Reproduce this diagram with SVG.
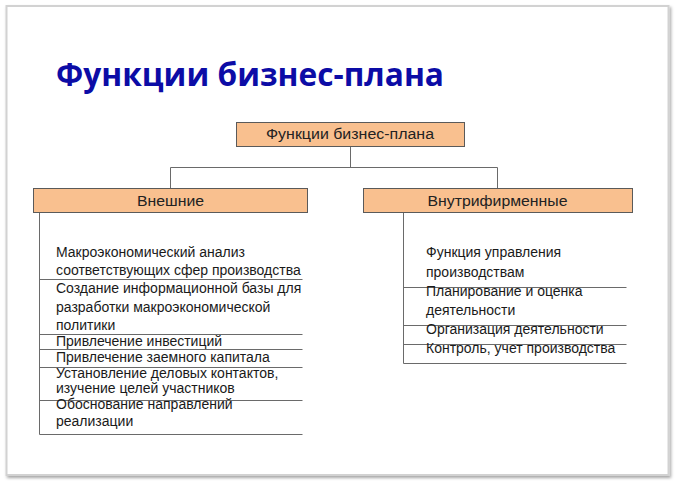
<svg xmlns="http://www.w3.org/2000/svg" width="676" height="482" viewBox="0 0 676 482">
<defs>
<filter id="sh" x="-5%" y="-5%" width="110%" height="110%">
<feDropShadow dx="1.5" dy="2" stdDeviation="1.5" flood-color="#000" flood-opacity="0.35"/>
</filter>
<style>
.title{font-family:"Open Sans","Noto Sans","Liberation Sans",sans-serif;font-weight:bold;font-size:32px;fill:#0C0CA6}
.box{fill:#F9C08F;stroke:#5a5a5a;stroke-width:1}
.bl{font-family:"Liberation Sans",Arial,sans-serif;font-size:14px;fill:#222}
.it{font-family:"Liberation Sans",Arial,sans-serif;font-size:14px;fill:#1a1a1a}
.ln{stroke:#6a6a6a;stroke-width:1;fill:none}
</style>
</defs>
<rect x="0" y="0" width="676" height="482" fill="#fff"/>
<rect x="6.5" y="6" width="662" height="469" fill="#fff" stroke="#d2d2d2" stroke-width="2" filter="url(#sh)"/>
<text class="title" x="56" y="86" textLength="388" lengthAdjust="spacingAndGlyphs">Функции бизнес-плана</text>
<g id="connectors">
<path class="ln" d="M350.5 146V167.5M170.5 188V167.5H497.5V188"/>
<path class="ln" d="M39.5 212V434.5H302.5"/>
<path class="ln" d="M39.5 279.5H302.5M39.5 334.5H302.5M39.5 349.5H302.5M39.5 367.5H302.5M39.5 400.5H302.5"/>
<path class="ln" d="M403.5 212V363.5H626.5"/>
<path class="ln" d="M403.5 287.5H626.5M403.5 325.5H626.5M403.5 344.5H626.5"/>
</g>
<g id="root">
<rect class="box" x="236.5" y="122.5" width="228" height="24"/>
<text class="bl" x="266" y="139" textLength="168" lengthAdjust="spacingAndGlyphs">Функции бизнес-плана</text>
</g>
<g id="external">
<rect class="box" x="33.5" y="188.5" width="274" height="24"/>
<text class="bl" x="137" y="206" textLength="67" lengthAdjust="spacingAndGlyphs">Внешние</text>
</g>
<g id="internal">
<rect class="box" x="363.5" y="188.5" width="269" height="24"/>
<text class="bl" x="427.5" y="206" textLength="140" lengthAdjust="spacingAndGlyphs">Внутрифирменные</text>
</g>
<g id="external-items">
<text class="it" x="56" y="257">Макроэкономический анализ</text>
<text class="it" x="56" y="275">соответствующих сфер производства</text>
<text class="it" x="56" y="293">Создание информационной базы для</text>
<text class="it" x="56" y="312">разработки макроэкономической</text>
<text class="it" x="56" y="330">политики</text>
<text class="it" x="56" y="346">Привлечение инвестиций</text>
<text class="it" x="56" y="362">Привлечение заемного капитала</text>
<text class="it" x="56" y="378">Установление деловых контактов,</text>
<text class="it" x="56" y="393">изучение целей участников</text>
<text class="it" x="56" y="409">Обоснование направлений</text>
<text class="it" x="56" y="426">реализации</text>
</g>
<g id="internal-items">
<text class="it" x="426" y="257">Функция управления</text>
<text class="it" x="426" y="277">производствам</text>
<text class="it" x="426" y="296">Планирование и оценка</text>
<text class="it" x="426" y="315">деятельности</text>
<text class="it" x="426" y="334">Организация деятельности</text>
<text class="it" x="426" y="353">Контроль, учет производства</text>
</g>
</svg>
